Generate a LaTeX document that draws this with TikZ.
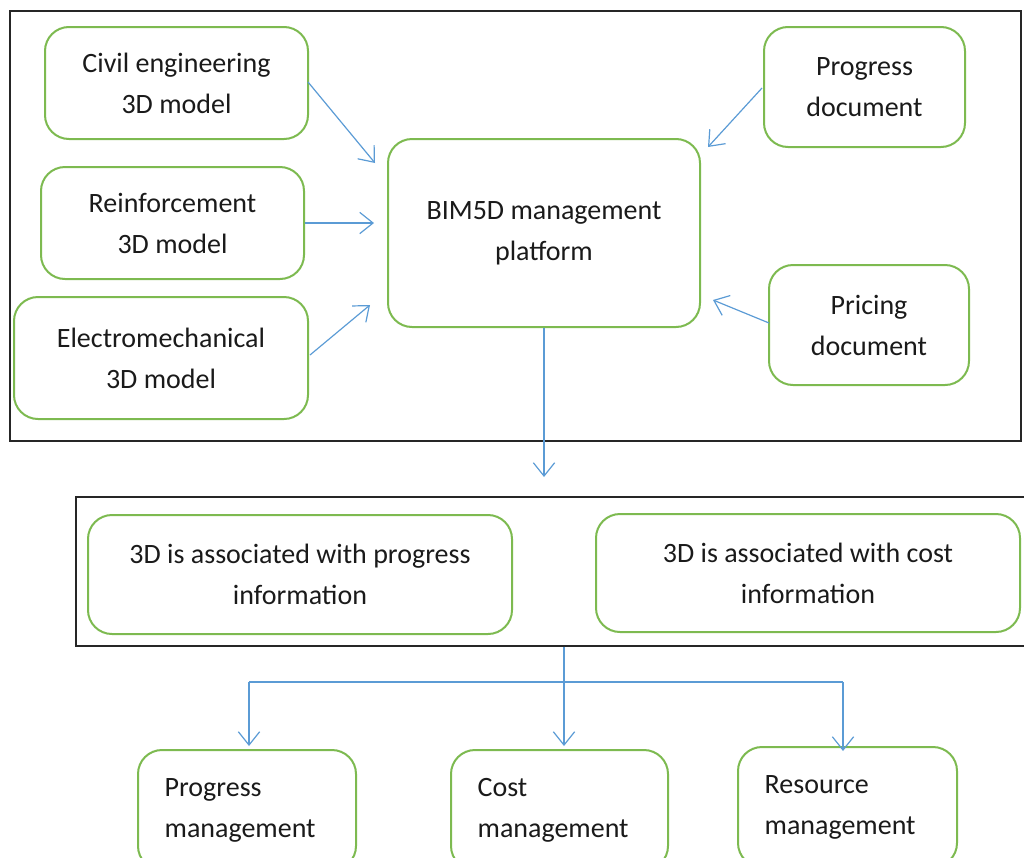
\documentclass[tikz,border=0pt]{standalone}
\usepackage{fontspec}
\setmainfont{Carlito}
\usetikzlibrary{arrows.meta}
\definecolor{boxgreen}{HTML}{7DBA50}
\definecolor{arrowblue}{HTML}{5B9BD5}
\definecolor{txt}{HTML}{1A1A1A}
\tikzset{
  box/.style={draw=boxgreen, line width=1.5pt, rounded corners=18pt, align=center,
    font=\fontsize{21}{30.75}\selectfont, text=txt, inner sep=0pt},
  lbox/.style={box, align=left, inner xsep=20pt},
  frame/.style={draw=black!85, line width=1.1pt},
  conn/.style={draw=arrowblue, line width=0.9pt, -{Straight Barb[length=10pt,width=16pt,line width=0.9pt]}},
  plain/.style={draw=arrowblue, line width=0.9pt}
}
\begin{document}
\begin{tikzpicture}[x=0.75pt,y=-0.75pt]
\useasboundingbox (0,0) rectangle (1024,857);
\clip (0,0) rectangle (1024,857);
% frames
\draw[frame] (10,11) rectangle (1021,441);
\node[frame, minimum width=720pt, minimum height=111.75pt, inner sep=0pt] (frame2) at (556,571.5) {};
% top nodes
\node[box, minimum width=197.25pt, minimum height=84pt] (civil) at (176.5,83) {Civil engineering\\3D model};
\node[box, minimum width=197.25pt, minimum height=84pt] (reinf) at (172.5,223) {Reinforcement\\3D model};
\node[box, minimum width=220.5pt, minimum height=91.5pt] (electro) at (161,358) {Electromechanical\\3D model};
\node[box, minimum width=234pt, minimum height=141pt] (bim) at (544,233) {BIM5D management\\platform};
\node[box, minimum width=150.75pt, minimum height=90pt] (progdoc) at (864.5,87) {Progress\\document};
\node[box, minimum width=150pt, minimum height=90pt] (pricing) at (869,325) {Pricing\\document};
% middle nodes
\node[box, minimum width=318pt, minimum height=89.25pt] (assocprog) at (300,574.5) {3D is associated with progress\\information};
\node[box, minimum width=318pt, minimum height=88.5pt] (assoccost) at (808,573) {3D is associated with cost\\information};
% bottom nodes
\node[lbox, text width=123.5pt, minimum width=163.5pt, minimum height=90pt] (progmgmt) at (247,810) {Progress\\management};
\node[lbox, text width=122.75pt, minimum width=162.75pt, minimum height=90pt] (costmgmt) at (559.5,810) {Cost\\management};
\node[lbox, text width=124.25pt, minimum width=164.25pt, minimum height=90pt] (resmgmt) at (847.5,807) {Resource\\management};
% connectors into BIM
\draw[conn] (308,82) -- (375,163);
\draw[conn] (reinf.east) -- (374,223);
\draw[conn] (310,355) -- (370,305);
\draw[conn] (762,88) -- (708,147);
\draw[conn] (769,323) -- (713,300);
% BIM down
\coordinate (bimend) at (544,477);
\draw[conn] (bim.south) -- (bimend);
% lower distribution
\coordinate (split) at (564,682);
\draw[conn] (frame2.south -| split) -- (split) -- (564,746);
\draw[plain] (split) -- (249,682);
\draw[conn] (249,682) -- (249,746);
\draw[plain] (split) -- (843,682);
\draw[conn] (843,682) -- (843,751);
\end{tikzpicture}
\end{document}
